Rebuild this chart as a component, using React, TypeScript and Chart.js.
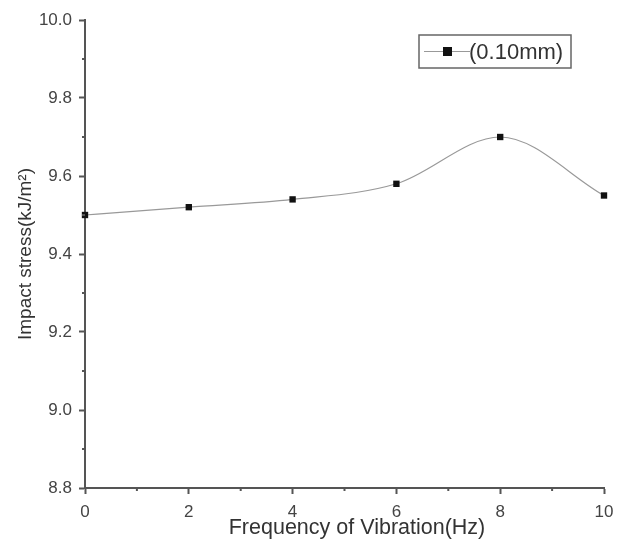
import React, { useEffect, useRef } from "react";
import { Chart, registerables } from "chart.js";

Chart.register(...registerables);

const frequencies = [0, 2, 4, 6, 8, 10];
const stress = [9.5, 9.52, 9.54, 9.58, 9.7, 9.55];
const seriesLabel = "(0.10mm)";
const xTitle = "Frequency of Vibration(Hz)";
const yTitle = "Impact stress(kJ/m²)";

const FONT = "'Liberation Sans', Arial, sans-serif";
const AXIS_COLOR = "#555";

const extrasPlugin = {
  id: "extras",
  afterDraw(chart: any) {
    const ctx = chart.ctx;
    const { left, bottom } = chart.chartArea;
    const xs = chart.scales.x;
    const ys = chart.scales.y;
    ctx.save();
    ctx.strokeStyle = AXIS_COLOR;
    ctx.lineWidth = 2;
    // minor ticks
    for (let v = 1; v < 10; v += 2) {
      const px = xs.getPixelForValue(v);
      ctx.beginPath();
      ctx.moveTo(px, bottom);
      ctx.lineTo(px, bottom + 3);
      ctx.stroke();
    }
    for (let i = 0; i < 6; i++) {
      const v = 8.9 + i * 0.2;
      const py = ys.getPixelForValue(v);
      ctx.beginPath();
      ctx.moveTo(left, py);
      ctx.lineTo(left - 3, py);
      ctx.stroke();
    }
    // x axis title
    ctx.fillStyle = "#333";
    ctx.font = `21.5px ${FONT}`;
    ctx.textAlign = "center";
    ctx.textBaseline = "middle";
    ctx.fillText(xTitle, 357, 528);
    // legend box
    const bx = 419, by = 35, bw = 152, bh = 33;
    ctx.lineWidth = 1.5;
    ctx.strokeStyle = "#666";
    ctx.fillStyle = "#fff";
    ctx.fillRect(bx, by, bw, bh);
    ctx.strokeRect(bx, by, bw, bh);
    const cy = by + bh / 2;
    ctx.strokeStyle = "#999";
    ctx.lineWidth = 1.2;
    ctx.beginPath();
    ctx.moveTo(bx + 5, cy);
    ctx.lineTo(bx + 51, cy);
    ctx.stroke();
    ctx.fillStyle = "#111";
    ctx.fillRect(bx + 24, cy - 4.5, 9, 9);
    ctx.fillStyle = "#333";
    ctx.font = `22px ${FONT}`;
    ctx.textBaseline = "middle";
    ctx.textAlign = "left";
    ctx.fillText(chart.data.datasets[0].label, bx + 50, cy + 1);
    ctx.restore();
  },
};

export default function App() {
  const ref = useRef<HTMLCanvasElement>(null);
  useEffect(() => {
    const chart = new Chart(ref.current!, {
      type: "line",
      data: {
        datasets: [
          {
            label: seriesLabel,
            data: frequencies.map((f, i) => ({ x: f, y: stress[i] })),
            borderColor: "#999",
            borderWidth: 1.2,
            cubicInterpolationMode: "monotone",
            pointStyle: "rect",
            pointRadius: 4.5,
            pointBackgroundColor: "#111",
            pointBorderColor: "#111",
            pointBorderWidth: 0,
            clip: false,
          },
        ],
      },
      options: {
        responsive: false,
        animation: false,
        layout: { padding: { top: 20, right: 15, left: 0, bottom: 0 } },
        plugins: { legend: { display: false }, tooltip: { enabled: false } },
        scales: {
          x: {
            type: "linear",
            min: 0,
            max: 10,
            afterFit: (s: any) => {
              s.height = 60;
              s.paddingLeft = 0;
              s.paddingRight = 0;
            },
            border: { display: true, color: AXIS_COLOR, width: 2 },
            grid: { display: true, drawOnChartArea: false, tickLength: 6, tickColor: AXIS_COLOR, tickWidth: 2 },
            ticks: {
              stepSize: 2,
              color: "#444",
              font: { family: FONT, size: 17 },
              padding: 8,
              maxRotation: 0,
            },
            title: { display: false, text: xTitle },
          },
          y: {
            type: "linear",
            min: 8.8,
            max: 10.0,
            afterFit: (s: any) => { s.width = 85; },
            border: { display: true, color: AXIS_COLOR, width: 2 },
            grid: { display: true, drawOnChartArea: false, tickLength: 6, tickColor: AXIS_COLOR, tickWidth: 2 },
            ticks: {
              stepSize: 0.2,
              color: "#444",
              font: { family: FONT, size: 17 },
              padding: 7,
              callback: (v: any) => Number(v).toFixed(1),
            },
            title: {
              display: true,
              text: yTitle,
              color: "#333",
              font: { family: FONT, size: 19 },
              padding: { top: 14, bottom: 0 },
            },
          },
        },
      },
      plugins: [extrasPlugin],
    } as any);
    return () => chart.destroy();
  }, []);
  return (
    <div style={{ position: "fixed", left: 0, top: 0, width: 619, height: 548, background: "#fff" }}>
      <canvas ref={ref} width={619} height={548} />
    </div>
  );
}
